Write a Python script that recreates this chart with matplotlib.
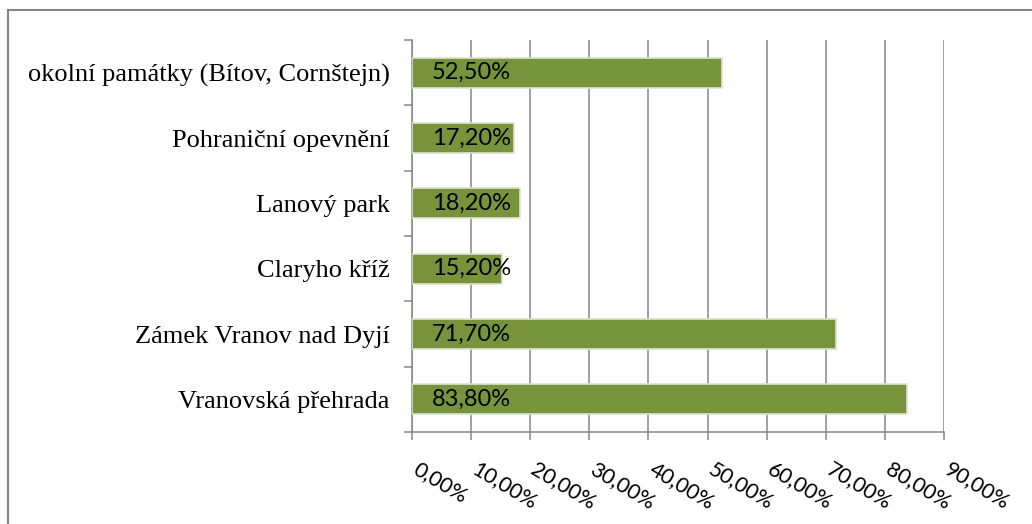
import numpy as np
import matplotlib.pyplot as plt
import matplotlib.transforms as mtransforms
from matplotlib.lines import Line2D

# Data (top to bottom as in the chart)
categories = ['okolní památky (Bítov, Cornštejn)', 'Pohraniční opevnění', 'Lanový park',
              'Claryho kříž', 'Zámek Vranov nad Dyjí', 'Vranovská přehrada']
values = [52.5, 17.2, 18.2, 15.2, 71.7, 83.8]
x_ticks = [0, 10, 20, 30, 40, 50, 60, 70, 80, 90]

bar_color = '#77933C'
grid_color = '#868686'

fig = plt.figure(figsize=(10.32, 5.24), dpi=100)
ax = fig.add_axes([412 / 1032, 1 - 432 / 524, (944 - 412) / 1032, (432 - 40) / 524])

# plot bottom-up so the first category is on top
cats = categories[::-1]
vals = values[::-1]
ypos = np.arange(len(cats))
ax.barh(ypos, vals, height=0.46, color=bar_color, edgecolor='#dde3d0', linewidth=1.2, zorder=3)

for y, v in zip(ypos, vals):
    ax.annotate(f'{v:.2f}%'.replace('.', ','), (0, y), xytext=(14.5, 0),
                textcoords='offset points', ha='left', va='center',
                fontsize=17, family='Lato', color='black', zorder=4)

ax.set_xlim(0, 90)
ax.set_ylim(-0.5, len(cats) - 0.5)

# gridlines
ax.set_xticks(x_ticks)
ax.xaxis.grid(True, color=grid_color, linewidth=1.1, zorder=0)
ax.set_axisbelow(True)

ax.set_xticklabels([f'{t:.2f}%'.replace('.', ',') for t in x_ticks],
                   rotation=-31, ha='left', va='top', rotation_mode='anchor',
                   fontsize=15.5, family='Lato')
ax.tick_params(axis='x', length=6, width=1.1, color=grid_color, pad=13)
shift = mtransforms.ScaledTranslation(8 / 100, 0, fig.dpi_scale_trans)
for lab in ax.get_xticklabels():
    lab.set_transform(lab.get_transform() + shift)

# y axis: labels at centres, tick marks at boundaries
ax.set_yticks(ypos)
ax.set_yticklabels(cats, fontsize=19, family='Liberation Serif')
ax.tick_params(axis='y', which='major', length=0, pad=16)
ax.set_yticks(np.arange(-0.5, len(cats)), minor=True)
ax.tick_params(axis='y', which='minor', length=6, width=1.1, color=grid_color)

for side in ['top', 'right']:
    ax.spines[side].set_visible(False)
for side in ['left', 'bottom']:
    ax.spines[side].set_color(grid_color)
    ax.spines[side].set_linewidth(1.1)

# outer chart border (only top and left visible in the crop)
fig.add_artist(Line2D([7.5 / 1032, 7.5 / 1032], [0, 1 - 10 / 524], transform=fig.transFigure,
                      color=grid_color, linewidth=1.5))
fig.add_artist(Line2D([7.5 / 1032, 1], [1 - 10 / 524, 1 - 10 / 524], transform=fig.transFigure,
                      color=grid_color, linewidth=1.5))

fig.savefig('out.png', dpi=100)
